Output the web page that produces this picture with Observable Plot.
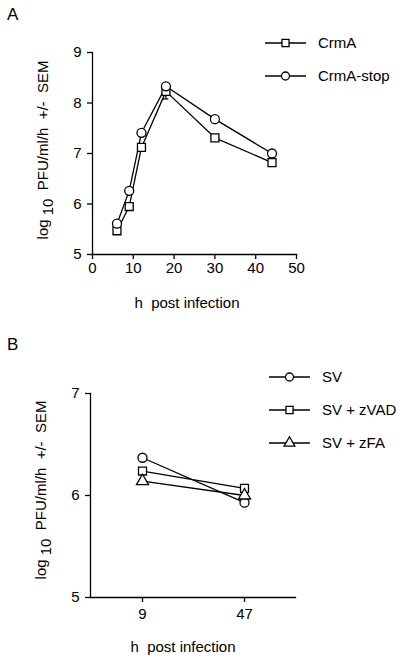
<!DOCTYPE html>
<html><head><meta charset="utf-8">
<script src="https://cdn.jsdelivr.net/npm/d3@7"></script>
<script src="https://cdn.jsdelivr.net/npm/@observablehq/plot@0.6"></script>
<style>
body{margin:0;background:#fff}
#wrap{position:relative;width:400px;height:658px;font-family:"Liberation Sans",Arial,sans-serif}
#wrap > svg{position:absolute;left:0}
</style></head><body><div id="wrap"></div>
<script>
// Panel A data
const hoursA = [6, 9, 12, 18, 30, 44];
const crmA = [5.47, 5.95, 7.12, 8.23, 7.31, 6.82];
const crmAErr = [0, 0, 0, 0.15, 0, 0];
const crmAStop = [5.61, 6.26, 7.41, 8.33, 7.68, 7.0];
const ticksAx = [0, 10, 20, 30, 40, 50];
const ticksAy = [5, 6, 7, 8, 9];
const seriesA = ["CrmA", "CrmA-stop"];
const symbolsA = ["square", "circle"];
// Panel B data
const hoursB = ["9", "47"];
const sv = [6.37, 5.93];
const svZVAD = [6.24, 6.07];
const svZFA = [6.14, 6.0];
const seriesB = ["SV", "SV + zVAD", "SV + zFA"];
const symbolsB = ["circle", "square", "triangle"];
const ticksBy = [5, 6, 7];

const FONT = '"Liberation Sans", Arial, sans-serif';
const SW = 1.3;
const R = 4.5;
const wrap = document.getElementById("wrap");

const dataA = [];
hoursA.forEach((h, i) => {
  dataA.push({h, v: crmA[i], s: seriesA[0], e: crmAErr[i]});
  dataA.push({h, v: crmAStop[i], s: seriesA[1], e: 0});
});
const errA = dataA.filter(d => d.e > 0);

const plotA = Plot.plot({
  width: 400, height: 329,
  marginLeft: 92, marginRight: 104, marginTop: 52, marginBottom: 75,
  style: {fontSize: "15px", fontFamily: FONT, color: "#000", background: "#fff"},
  x: {domain: [0, 50], ticks: ticksAx},
  y: {domain: [5, 9], ticks: ticksAy},
  symbol: {domain: seriesA, range: symbolsA},
  marks: [
    Plot.ruleX(errA, {x: "h", y1: d => d.v, y2: d => d.v - d.e, stroke: "#000", strokeWidth: SW}),
    Plot.ruleY(errA, {y: d => d.v - d.e, x1: d => d.h - 0.7, x2: d => d.h + 0.7, stroke: "#000", strokeWidth: SW}),
    Plot.line(dataA, {x: "h", y: "v", z: "s", stroke: "#000", strokeWidth: SW}),
    Plot.dot(dataA, {x: "h", y: "v", symbol: "s", r: R, fill: "#fff", stroke: "#000", strokeWidth: SW}),
    Plot.axisX({ticks: ticksAx, tickFormat: d3.format("d"), tickSize: 5, tickPadding: 3, label: null, strokeWidth: SW}),
    Plot.axisY({ticks: ticksAy, tickFormat: d3.format("d"), tickSize: 5, tickPadding: 6, label: null, strokeWidth: SW}),
    Plot.frame({anchor: "left", strokeWidth: SW}),
    Plot.frame({anchor: "bottom", strokeWidth: SW})
  ]
});
plotA.style.top = "0px";
wrap.appendChild(plotA);

const dataB = [];
hoursB.forEach((h, i) => {
  dataB.push({h, v: sv[i], s: seriesB[0]});
  dataB.push({h, v: svZVAD[i], s: seriesB[1]});
  dataB.push({h, v: svZFA[i], s: seriesB[2]});
});

const plotB = Plot.plot({
  width: 400, height: 329,
  marginLeft: 90, marginRight: 105, marginTop: 64, marginBottom: 61,
  style: {fontSize: "15px", fontFamily: FONT, color: "#000", background: "#fff"},
  x: {type: "point", domain: hoursB, padding: 0.5},
  y: {domain: [5, 7], ticks: ticksBy},
  symbol: {domain: seriesB, range: symbolsB},
  marks: [
    Plot.line(dataB, {x: "h", y: "v", z: "s", stroke: "#000", strokeWidth: SW}),
    Plot.dot(dataB, {x: "h", y: "v", symbol: "s", r: R, fill: "#fff", stroke: "#000", strokeWidth: SW}),
    Plot.axisX({tickSize: 5, tickPadding: 6, label: null, strokeWidth: SW}),
    Plot.axisY({ticks: ticksBy, tickFormat: d3.format("d"), tickSize: 5, tickPadding: 6, label: null, strokeWidth: SW}),
    Plot.frame({anchor: "left", strokeWidth: SW}),
    Plot.frame({anchor: "bottom", strokeWidth: SW})
  ]
});
plotB.style.top = "329px";
wrap.appendChild(plotB);

const symMap = {square: d3.symbolSquare, circle: d3.symbolCircle, triangle: d3.symbolTriangle};

function decorate(svg, o) {
  const g = d3.select(svg).append("g")
    .attr("font-family", FONT).attr("fill", "#000").attr("text-anchor", "start");
  // panel letter
  g.append("text").attr("x", 7).attr("y", o.letterY)
    .attr("font-size", 17).text(o.letter);
  // x label
  g.append("text").attr("x", o.xLabX).attr("y", o.xLabY)
    .attr("font-size", 15).attr("text-anchor", "middle")
    .style("white-space", "pre").text("h  post infection");
  // y label
  const yl = g.append("text")
    .attr("transform", `translate(${o.yLabX},${o.yLabY}) rotate(-90)`)
    .attr("font-size", 15).attr("text-anchor", "middle")
    .style("white-space", "pre");
  yl.append("tspan").text("log ");
  yl.append("tspan").attr("dy", 5).text("10");
  yl.append("tspan").attr("dy", -5).text("  PFU/ml/h  +/-  SEM");
  // legend
  o.series.forEach((name, i) => {
    const y = o.legY + i * o.legStep;
    const lg = g.append("g");
    lg.append("line").attr("x1", o.legX).attr("x2", o.legX + 41)
      .attr("y1", y).attr("y2", y).attr("stroke", "#000").attr("stroke-width", SW);
    lg.append("path")
      .attr("d", d3.symbol(symMap[o.symbols[i]], Math.PI * 4 * 4)())
      .attr("transform", `translate(${o.legX + 20.5},${y})`)
      .attr("fill", "#fff").attr("stroke", "#000").attr("stroke-width", SW);
    lg.append("text").attr("x", o.legX + 53).attr("y", y + 5)
      .attr("font-size", 15).attr("text-anchor", "start").text(name);
  });
}

decorate(plotA, {letter: "A", letterY: 20, xLabX: 187, xLabY: 308, yLabX: 48, yLabY: 150,
  series: seriesA, symbols: symbolsA, legX: 265, legY: 43, legStep: 33});
decorate(plotB, {letter: "B", letterY: 21, xLabX: 183, xLabY: 323, yLabX: 46, yLabY: 161,
  series: seriesB, symbols: symbolsB, legX: 269, legY: 48, legStep: 33});
</script>
</body></html>
